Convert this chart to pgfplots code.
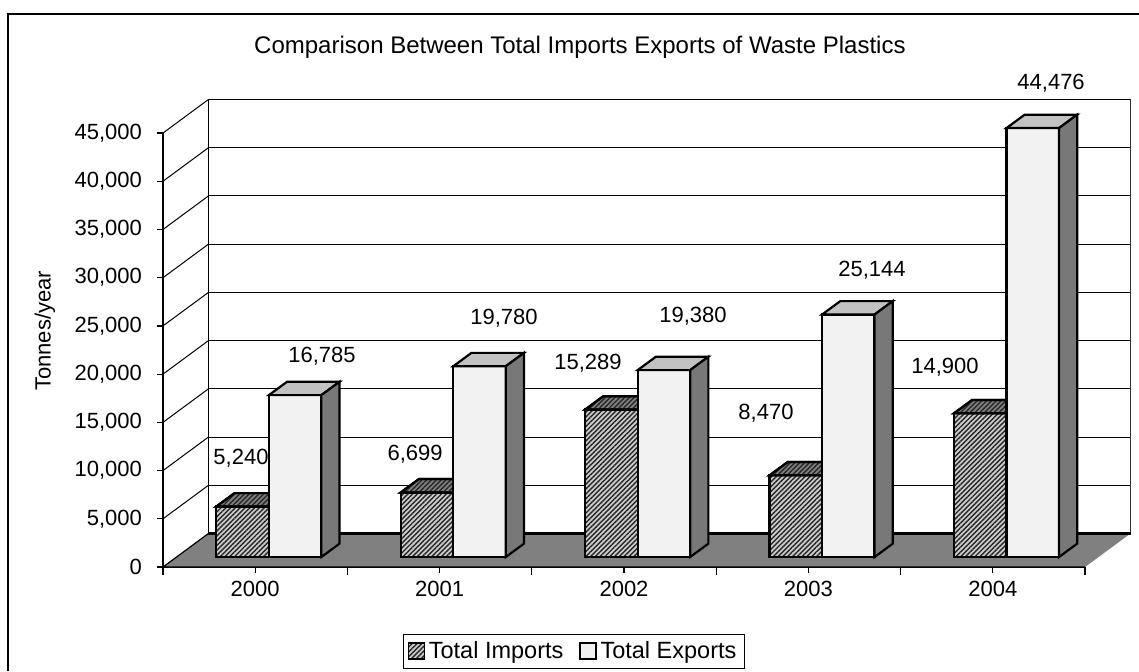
\documentclass[border=0pt]{standalone}
\usepackage{pgfplots}
\pgfplotsset{compat=1.18}
\usepackage{pgfplotstable}
\usetikzlibrary{patterns.meta}
\usepackage{fontspec}
\setmainfont{Liberation Sans}

\definecolor{impbase}{gray}{0.8}
\definecolor{imptopbase}{gray}{0.5}
\definecolor{expfront}{gray}{0.95}
\definecolor{exptop}{gray}{0.76}
\definecolor{expside}{gray}{0.47}
\definecolor{floorgray}{gray}{0.5}

\newcommand{\lblfont}{\fontsize{11bp}{13bp}\selectfont}

\pgfplotstableread{
idx year imp exp
0 2000 5240 16785
1 2001 6699 19780
2 2002 15289 19380
3 2003 8470 25144
4 2004 14900 44476
}\datatable

\pgfplotsset{
  face/.style={draw=black, line width=1.1bp, yshift=5bp, forget plot},
  hatch/.style={postaction={pattern={Lines[angle=45, distance=1.7bp, line width=0.7bp]}, pattern color=black!85}},
}

\begin{document}
\begin{tikzpicture}
\begin{axis}[
  scale only axis, width=461bp, height=217bp,
  xmin=0, xmax=5, ymin=0, ymax=45000,
  axis x line*=bottom, axis y line*=left,
  axis line style={-, line width=0.6bp},
  clip=false,
  tick align=outside,
  xtick={0.5,1.5,2.5,3.5,4.5},
  xticklabels={2000,2001,2002,2003,2004},
  major tick length=3bp,
  minor xtick={0,1,2,3,4,5},
  minor tick length=4bp,
  minor tick style={line width=0.6bp, black},
  ytick={0,5000,10000,15000,20000,25000,30000,35000,40000,45000},
  yticklabels={0,{5,000},{10,000},{15,000},{20,000},{25,000},{30,000},{35,000},{40,000},{45,000}},
  major tick style={line width=0.6bp, black},
  scaled y ticks=false,
  tick label style={font=\lblfont},
  yticklabel style={font=\lblfont, xshift=-4bp},
  xticklabel style={font=\lblfont, yshift=-0.5bp},
  ylabel={Tonnes/year},
  every axis y label/.style={at={(axis description cs:-0.128,0.544)}, rotate=90, anchor=center, font=\lblfont},
  legend image code/.code={\draw[#1, line width=0.6bp] (0bp,-4bp) rectangle (8bp,4bp);},
  legend style={at={(axis cs:2.229,-8710)}, anchor=center, draw=black, line width=0.5bp,
    font=\fontsize{11.75bp}{14bp}\selectfont, legend columns=2,
    inner xsep=2bp, inner ysep=1.5bp,
    /tikz/every even column/.append style={column sep=6bp}},
]
% back wall grid
\draw[black, line width=0.5bp]
  (axis cs:0.2467,8480) -- (axis cs:5.2467,8480)
  (axis cs:0.2467,13480) -- (axis cs:5.2467,13480)
  (axis cs:0.2467,18480) -- (axis cs:5.2467,18480)
  (axis cs:0.2467,23480) -- (axis cs:5.2467,23480)
  (axis cs:0.2467,28480) -- (axis cs:5.2467,28480)
  (axis cs:0.2467,33480) -- (axis cs:5.2467,33480)
  (axis cs:0.2467,38480) -- (axis cs:5.2467,38480)
  (axis cs:0.2467,43480) -- (axis cs:5.2467,43480)
  (axis cs:0.2467,48480) -- (axis cs:5.2467,48480);
\draw[black, line width=0.6bp] (axis cs:0.2467,3480) -- (axis cs:0.2467,48480);
\draw[black!80, line width=0.6bp] (axis cs:5.2467,3480) -- (axis cs:5.2467,48480);
% side wall lines
\draw[black, line width=0.5bp]
  (axis cs:0,5000) -- (axis cs:0.2467,8480)
  (axis cs:0,10000) -- (axis cs:0.2467,13480)
  (axis cs:0,15000) -- (axis cs:0.2467,18480)
  (axis cs:0,20000) -- (axis cs:0.2467,23480)
  (axis cs:0,25000) -- (axis cs:0.2467,28480)
  (axis cs:0,30000) -- (axis cs:0.2467,33480)
  (axis cs:0,35000) -- (axis cs:0.2467,38480)
  (axis cs:0,40000) -- (axis cs:0.2467,43480)
  (axis cs:0,45000) -- (axis cs:0.2467,48480);
% floor
\fill[floorgray] (axis cs:0,0) -- (axis cs:5,0) -- (axis cs:5.2467,3480) -- (axis cs:0.2467,3480) -- cycle;
\draw[black, line width=0.6bp] (axis cs:5,0) -- (axis cs:0,0) -- (axis cs:0.2467,3480);
\draw[black, line width=1.1bp] (axis cs:0.2467,3480) -- (axis cs:5.2467,3480);

% ---- Total Imports: front faces and top faces
\addplot[ybar, bar width=0.2847, bar shift=0pt, fill=impbase, hatch, draw=black, line width=1.1bp, yshift=5bp, forget plot]
  table[x expr=\thisrow{idx}+0.4317, y=imp] {\datatable};
\addplot[face, fill=imptopbase, hatch] coordinates {(0.2894,5240) (0.5741,5240) (0.6728,6629) (0.3881,6629)} -- cycle;
\addplot[face, fill=imptopbase, hatch] coordinates {(1.2894,6699) (1.5741,6699) (1.6728,8088) (1.3881,8088)} -- cycle;
\addplot[face, fill=imptopbase, hatch] coordinates {(2.2894,15289) (2.5741,15289) (2.6728,16678) (2.3881,16678)} -- cycle;
\addplot[face, fill=imptopbase, hatch] coordinates {(3.2894,8470) (3.5741,8470) (3.6728,9859) (3.3881,9859)} -- cycle;
\addplot[face, fill=imptopbase, hatch] coordinates {(4.2894,14900) (4.5741,14900) (4.6728,16289) (4.3881,16289)} -- cycle;

% ---- Total Exports: front faces, top faces, side faces
\addplot[ybar, bar width=0.2847, bar shift=0pt, fill=expfront, draw=black, line width=1.1bp, yshift=5bp, forget plot]
  table[x expr=\thisrow{idx}+0.7164, y=exp] {\datatable};
\addplot[face, fill=exptop] coordinates {(0.5741,16785) (0.8588,16785) (0.9575,18174) (0.6728,18174)} -- cycle;
\addplot[face, fill=exptop] coordinates {(1.5741,19780) (1.8588,19780) (1.9575,21169) (1.6728,21169)} -- cycle;
\addplot[face, fill=exptop] coordinates {(2.5741,19380) (2.8588,19380) (2.9575,20769) (2.6728,20769)} -- cycle;
\addplot[face, fill=exptop] coordinates {(3.5741,25144) (3.8588,25144) (3.9575,26533) (3.6728,26533)} -- cycle;
\addplot[face, fill=exptop] coordinates {(4.5741,44476) (4.8588,44476) (4.9575,45865) (4.6728,45865)} -- cycle;
\addplot[face, fill=expside] coordinates {(0.8588,0) (0.8588,16785) (0.9575,18174) (0.9575,1389)} -- cycle;
\addplot[face, fill=expside] coordinates {(1.8588,0) (1.8588,19780) (1.9575,21169) (1.9575,1389)} -- cycle;
\addplot[face, fill=expside] coordinates {(2.8588,0) (2.8588,19380) (2.9575,20769) (2.9575,1389)} -- cycle;
\addplot[face, fill=expside] coordinates {(3.8588,0) (3.8588,25144) (3.9575,26533) (3.9575,1389)} -- cycle;
\addplot[face, fill=expside] coordinates {(4.8588,0) (4.8588,44476) (4.9575,45865) (4.9575,1389)} -- cycle;

\addlegendimage{fill=impbase, hatch, draw=black}
\addlegendentry{Total Imports}
\addlegendimage{fill=expfront, draw=black}
\addlegendentry{Total Exports}

% data labels
\node[font=\lblfont] at (axis cs:0.423,11302) {5,240};
\node[font=\lblfont] at (axis cs:0.862,21879) {16,785};
\node[font=\lblfont] at (axis cs:1.367,11717) {6,699};
\node[font=\lblfont] at (axis cs:1.849,25819) {19,780};
\node[font=\lblfont] at (axis cs:2.305,21153) {15,289};
\node[font=\lblfont] at (axis cs:2.874,26026) {19,380};
\node[font=\lblfont] at (axis cs:3.270,15968) {8,470};
\node[font=\lblfont] at (axis cs:3.845,30796) {25,144};
\node[font=\lblfont] at (axis cs:4.241,20738) {14,900};
\node[font=\lblfont] at (axis cs:4.816,50186) {44,476};

% title
\node[font=\fontsize{12bp}{14bp}\selectfont] at (axis cs:2.261,53919) {Comparison Between Total Imports Exports of Waste Plastics};

% chart border (top and left edges visible)
\draw[black, line width=0.75bp] (axis cs:-0.8406,-10784) -- (axis cs:-0.8406,57341) -- (axis cs:5.2928,57341);

\coordinate (BBl) at (axis cs:-0.8839,-10784);
\coordinate (BBr) at (axis cs:5.2928,58792);
\end{axis}
\pgfresetboundingbox
\path[use as bounding box] (BBl) rectangle (BBr);
\end{tikzpicture}
\end{document}
